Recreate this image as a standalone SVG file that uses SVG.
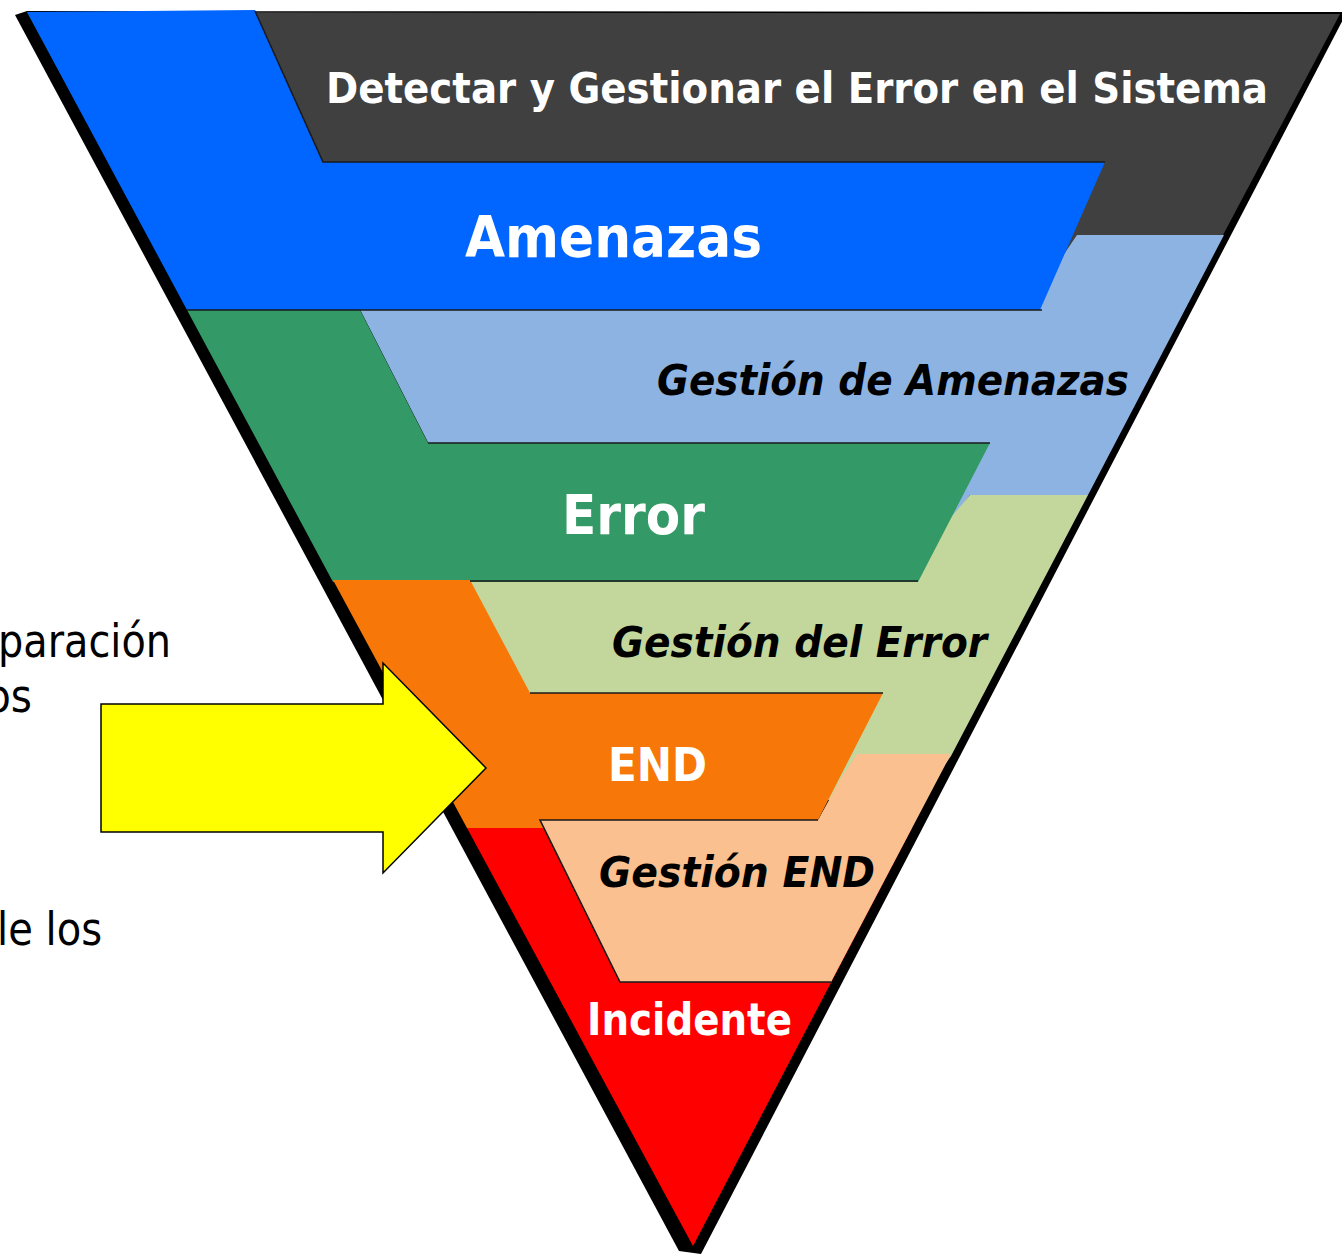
<svg xmlns="http://www.w3.org/2000/svg" width="1342" height="1255" viewBox="0 0 1342 1255">
<style>
.lbl{font-family:"DejaVu Sans","Liberation Sans",sans-serif;font-weight:bold}
.w{fill:#ffffff}
.k{fill:#000000;font-style:italic}
.side{font-family:"DejaVu Sans","Liberation Sans",sans-serif;font-size:46px;fill:#000000}
.edge{fill:none;stroke:#1a1a1a;stroke-width:1.6}
</style>
<rect width="1342" height="1255" fill="#ffffff"/>
<g id="side-text">
<text class="side" x="-2" y="657" textLength="173" lengthAdjust="spacingAndGlyphs">paración</text>
<text class="side" x="-14" y="712" textLength="46" lengthAdjust="spacingAndGlyphs">os</text>
<text class="side" x="-3" y="945" textLength="105" lengthAdjust="spacingAndGlyphs">le los</text>
</g>
<g id="funnel">
<polygon id="shadow" points="15,15 27,11 1347,12 701,1254 679,1251" fill="#000000"/>
<g id="band-sistema">
<polygon points="27,12 1340,14 1214,252 157,252" fill="#404040"/>
</g>
<g id="band-gestion-amenazas">
<polygon points="1077,235 1224,235 1088,495 970,495 935,540 478,540 350,290 1060,260" fill="#8DB3E2"/>
</g>
<g id="band-amenazas">
<polygon points="27,12 255,10 323,162 1105,162 1040,310 187,310" fill="#0066FF"/>
</g>
<g id="band-gestion-error">
<polygon points="400,581 940,530 970,495 1088,495 951,756 920,800 500,800" fill="#C3D69B"/>
</g>
<g id="band-error">
<polygon points="187,310 360,310 428,443 990,443 918,582 333,582" fill="#339966"/>
</g>
<g id="band-incidente">
<polygon points="467,828 912,828 693,1246" fill="#FF0000"/>
</g>
<g id="band-gestion-end">
<polygon points="540,820 818,820 840,780 857,754 951,754 831,982 620,982" fill="#FAC090"/>
</g>
<g id="band-end">
<polygon points="333,580 470,580 530,693 883,693 818,820 540,820 544,828 467,828" fill="#F77708"/>
</g>
<g id="edges">
<path class="edge" d="M255,11 L323,162 L1105,162"/>
<path class="edge" d="M187,310 L1042,310"/>
<path class="edge" d="M428,443 L990,443"/>
<path class="edge" d="M470,581 L918,581"/>
<path class="edge" d="M530,693 L883,693"/>
<path class="edge" d="M818,820 L540,820 L620,982 L831,982"/>
</g>
<g id="labels">
<text class="lbl w" x="326" y="103" font-size="43" textLength="942" lengthAdjust="spacingAndGlyphs">Detectar y Gestionar el Error en el Sistema</text>
<text class="lbl w" x="465" y="257" font-size="57" textLength="297" lengthAdjust="spacingAndGlyphs">Amenazas</text>
<text class="lbl k" x="657" y="395" font-size="42" textLength="472" lengthAdjust="spacingAndGlyphs">Gestión de Amenazas</text>
<text class="lbl w" x="562" y="534" font-size="56" textLength="143" lengthAdjust="spacingAndGlyphs">Error</text>
<text class="lbl k" x="612" y="657" font-size="42" textLength="375" lengthAdjust="spacingAndGlyphs">Gestión del Error</text>
<text class="lbl w" x="608" y="781" font-size="46" textLength="99" lengthAdjust="spacingAndGlyphs">END</text>
<text class="lbl k" x="599" y="887" font-size="42" textLength="276" lengthAdjust="spacingAndGlyphs">Gestión END</text>
<text class="lbl w" x="587" y="1035" font-size="45" textLength="205" lengthAdjust="spacingAndGlyphs">Incidente</text>
</g>
</g>
<g id="connectors">
<polygon id="arrow" points="101,704 383,704 383,663 486,768 383,873 383,832 101,832" fill="#FFFF00" stroke="#000000" stroke-width="1.5" stroke-linejoin="miter"/>
</g>
</svg>
